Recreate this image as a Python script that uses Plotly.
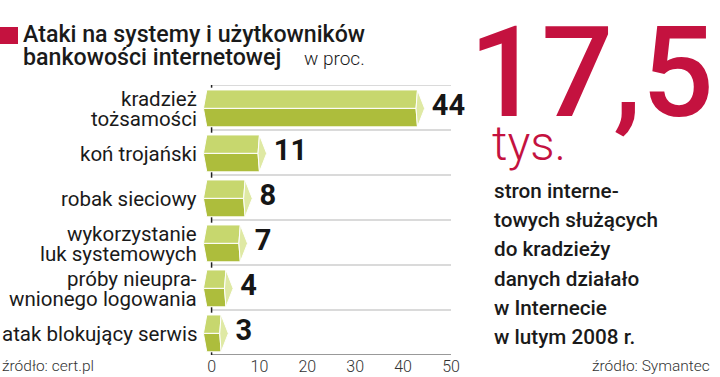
import plotly.graph_objects as go

categories = ["kradzież\ntożsamości", "koń trojański", "robak sieciowy",
              "wykorzystanie\nluk systemowych", "próby nieupra-\nwnionego logowania",
              "atak blokujący serwis"]
values = [44, 11, 8, 7, 4, 3]
x_ticks = [0, 10, 20, 30, 40, 50]
title_lines = ["Ataki na systemy i użytkowników", "bankowości internetowej"]
unit_label = "w proc."
big_number = "17,5"
big_unit = "tys."
side_lines = ["stron interne-", "towych służących", "do kradzieży",
              "danych działało", "w Internecie", "w lutym 2008 r."]
source_left = "źródło: cert.pl"
source_right = "źródło: Symantec"

RED = "#c4123f"
TOP = "#c7d76e"
BOT = "#adbd3c"
END = "#dfe9a4"
FONT = "Roboto"

W, H = 720, 377
ML, MR, MT, MB = 202, 269, 85, 22
PW, PH = W - ML - MR, H - MT - MB


def X(px):
    return (px - ML) / PW


def Y(py):
    return (H - MB - py) / PH


h = 0.41
L_mid, L_edge = -1.7, -1.0
faces = {"top": ([], []), "bot": ([], []), "end": ([], [])}
for i, v in enumerate(values):
    c = i + 0.02
    tip = v + 0.5
    r_edge, r_mid = tip - 1.5, tip - 1.8
    polys = {
        "top": [(L_edge, c - h), (r_edge, c - h), (r_mid, c), (L_mid, c)],
        "bot": [(L_mid, c), (r_mid, c), (r_edge, c + h), (L_edge, c + h)],
        "end": [(r_edge, c - h), (tip, c), (r_edge, c + h), (r_mid, c)],
    }
    for k, pts in polys.items():
        xs, ys = faces[k]
        pts = pts + [pts[0]]
        xs.extend([p[0] for p in pts] + [None])
        ys.extend([p[1] for p in pts] + [None])

fig = go.Figure()
for k, col in (("top", TOP), ("bot", BOT), ("end", END)):
    xs, ys = faces[k]
    fig.add_trace(go.Scatter(x=xs, y=ys, mode="lines", fill="toself", fillcolor=col,
                             line=dict(color="white", width=1), hoverinfo="skip",
                             showlegend=False))

fig.add_trace(go.Scatter(x=[v + 2.0 for v in values], y=list(range(len(values))),
                         mode="text", text=[str(v) for v in values],
                         textposition="middle right", cliponaxis=False,
                         textfont=dict(family=FONT, size=29, color="#161616", weight=700),
                         hoverinfo="skip", showlegend=False))

shapes = []
for j in range(len(values) + 1):
    yb = j - 0.5
    last = j == len(values)
    shapes.append(dict(type="line", xref="x", yref="y", x0=0, x1=50, y0=yb, y1=yb,
                       line=dict(color="#777" if last else "#b5b5b5", width=1.5 if last else 1)))
    shapes.append(dict(type="line", xref="x", yref="y", x0=0, x1=0, y0=yb - 0.06, y1=yb + 0.06,
                       line=dict(color="#222", width=1.5)))
shapes.append(dict(type="rect", xref="paper", yref="paper", x0=X(0), x1=X(18), y0=Y(44), y1=Y(27),
                   fillcolor=RED, line=dict(width=0)))

ann = []
# category labels (right-aligned, tight line spacing)
for i, cat in enumerate(categories):
    parts = cat.split("\n")
    n = len(parts)
    for k, p in enumerate(parts):
        shift = (k - (n - 1) / 2) * 20
        ann.append(dict(text=p, x=X(199), xref="paper", y=i, yref="y", yshift=-shift - 1,
                        xanchor="right", yanchor="middle",
                        font=dict(family=FONT, size=20.5, color="#1a1a1a", weight=400)))
ann.append(dict(text=title_lines[0], x=X(21), y=Y(34), xanchor="left", yanchor="middle",
                font=dict(family=FONT, size=23.2, color="#1a1a1a", weight=500)))
ann.append(dict(text=title_lines[1], x=X(21), y=Y(57), xanchor="left", yanchor="middle",
                font=dict(family=FONT, size=23.2, color="#1a1a1a", weight=500)))
ann.append(dict(text=unit_label, x=X(302), y=Y(59), xanchor="left", yanchor="middle",
                font=dict(family=FONT, size=19, color="#1a1a1a", weight=300)))
ann.append(dict(text=big_number, x=X(716), y=Y(72), xanchor="right", yanchor="middle",
                font=dict(family=FONT, size=127, color=RED, weight=500)))
ann.append(dict(text=big_unit, x=X(490), y=Y(143), xanchor="left", yanchor="middle",
                font=dict(family=FONT, size=48, color=RED, weight=300)))
for k, line in enumerate(side_lines):
    ann.append(dict(text=line, x=X(492), y=Y(191 + k * 29.2), xanchor="left", yanchor="middle",
                    font=dict(family=FONT, size=20.7, color="#1a1a1a", weight=500)))
ann.append(dict(text=source_left, x=X(0), y=Y(366), xanchor="left", yanchor="middle",
                font=dict(family=FONT, size=15.5, color="#333", weight=300)))
ann.append(dict(text=source_right, x=X(712), y=Y(366), xanchor="right", yanchor="middle",
                font=dict(family=FONT, size=15.5, color="#333", weight=300)))
for a in ann:
    a.setdefault("xref", "paper")
    a.setdefault("yref", "paper")
    a["showarrow"] = False

fig.update_layout(
    width=W, height=H, margin=dict(l=ML, r=MR, t=MT, b=MB, autoexpand=False),
    paper_bgcolor="white", plot_bgcolor="white",
    shapes=shapes, annotations=ann,
    xaxis=dict(range=[-2, 50], tickvals=x_ticks, showgrid=False, zeroline=False,
               showline=False, ticks="", automargin=False,
               tickfont=dict(family=FONT, size=16, color="#333", weight=300),
               fixedrange=True),
    yaxis=dict(range=[len(values) - 0.5, -0.5], tickvals=list(range(len(values))),
               showticklabels=False, showgrid=False, zeroline=False, showline=False, ticks="",
               automargin=False, fixedrange=True),
)

fig.write_html("out.html", config={"displayModeBar": False},
               post_script="document.body.style.margin='0';")
